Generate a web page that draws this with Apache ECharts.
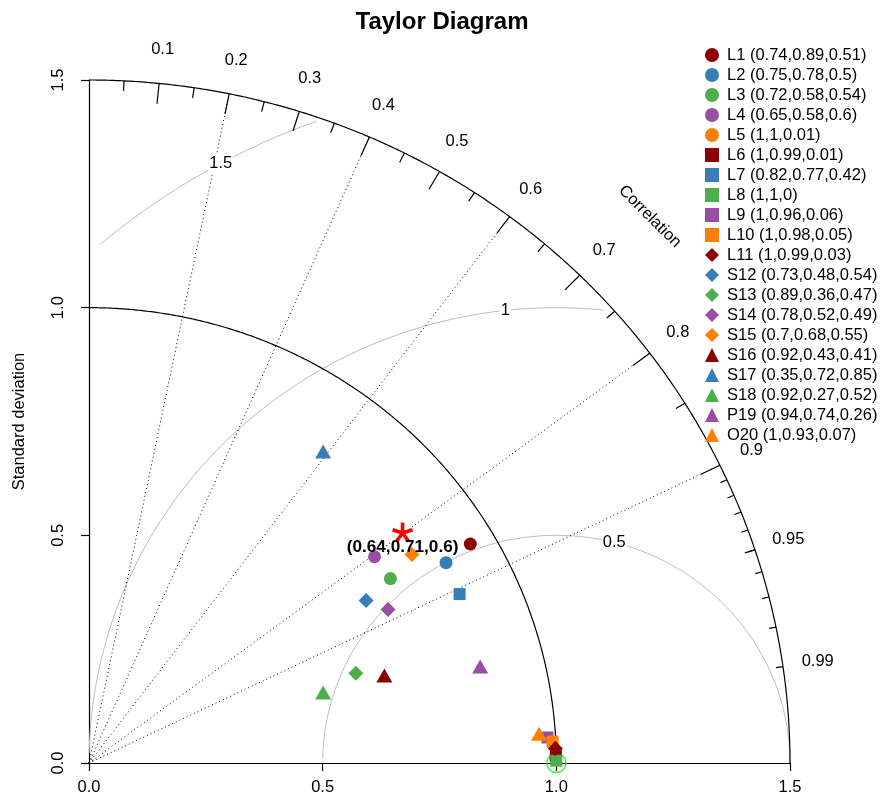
<!DOCTYPE html>
<html>
<head>
<meta charset="utf-8">
<script src="https://cdn.jsdelivr.net/npm/echarts@6/dist/echarts.min.js"></script>
<style>
html,body{margin:0;padding:0;background:#fff;}
#chart{width:884px;height:805px;}
</style>
</head>
<body>
<div id="chart"></div>
<script>
// ---------------- data ----------------
const chartTitle = 'Taylor Diagram';
const sdAxisName = 'Standard deviation';
const corrAxisName = 'Correlation';

const sdTicks = [0, 0.5, 1.0, 1.5];
const maxSd = 1.5;
const refSd = 1.0;

const corrLines = [0.2, 0.4, 0.6, 0.8, 0.9];
const corrBigTicks = [0.1, 0.2, 0.3, 0.4, 0.5, 0.6, 0.7, 0.8, 0.9];
const corrMedTicks = [0.05, 0.15, 0.25, 0.35, 0.45, 0.55, 0.65, 0.75, 0.85, 0.95];
const corrSmallTicks = [0.91, 0.92, 0.93, 0.94, 0.95, 0.96, 0.97, 0.98, 0.99];
const corrLabelValues = [0.1, 0.2, 0.3, 0.4, 0.5, 0.6, 0.7, 0.8, 0.9, 0.95, 0.99];
const rmsLevels = [0.5, 1, 1.5];

const modelNames = [
  'L1 (0.74,0.89,0.51)', 'L2 (0.75,0.78,0.5)', 'L3 (0.72,0.58,0.54)', 'L4 (0.65,0.58,0.6)',
  'L5 (1,1,0.01)', 'L6 (1,0.99,0.01)', 'L7 (0.82,0.77,0.42)', 'L8 (1,1,0)',
  'L9 (1,0.96,0.06)', 'L10 (1,0.98,0.05)', 'L11 (1,0.99,0.03)', 'S12 (0.73,0.48,0.54)',
  'S13 (0.89,0.36,0.47)', 'S14 (0.78,0.52,0.49)', 'S15 (0.7,0.68,0.55)', 'S16 (0.92,0.43,0.41)',
  'S17 (0.35,0.72,0.85)', 'S18 (0.92,0.27,0.52)', 'P19 (0.94,0.74,0.26)', 'O20 (1,0.93,0.07)'
];
// positions in standard-deviation units (x = sd*corr, y = sd*sqrt(1-corr^2))
const modelX = [0.816, 0.764, 0.645, 0.611, 0.998, 0.999, 0.793, 1.000, 0.981, 0.992,
                0.998, 0.593, 0.571, 0.640, 0.691, 0.632, 0.501, 0.501, 0.837, 0.963];
const modelY = [0.481, 0.440, 0.405, 0.453, 0.012, 0.015, 0.371, 0.005, 0.056, 0.047,
                0.032, 0.357, 0.197, 0.337, 0.458, 0.192, 0.684, 0.155, 0.212, 0.064];
const modelSymbols = ['circle','circle','circle','circle','circle',
                      'rect','rect','rect','rect','rect',
                      'diamond','diamond','diamond','diamond','diamond',
                      'triangle','triangle','triangle','triangle','triangle'];
const palette = ['#8B0000', '#377EB8', '#4DAF4A', '#984EA3', '#FF7F00'];

const starX = [0.671];
const starY = [0.505];
const starLabel = '(0.64,0.71,0.6)';

// ---------------- build ----------------
const FONT = '"Liberation Sans", Arial, Helvetica, sans-serif';
const symbolSizes = {circle: 13, rect: 12, diamond: [15, 15], triangle: [16, 14]};

function arc(r, cx, a0, a1, n) {
  const pts = [];
  for (let i = 0; i <= n; i++) {
    const a = a0 + (a1 - a0) * i / n;
    pts.push([cx + r * Math.cos(a), r * Math.sin(a)]);
  }
  return pts;
}
// RMS circle sampled like plotrix (step 0.03 rad), trimmed to the quarter disc
function rmsCircle(g) {
  const xs = [], ys = [];
  for (let a = 0; a <= Math.PI + 1e-9; a += 0.03) {
    xs.push(refSd + g * Math.cos(a));
    ys.push(g * Math.sin(a));
  }
  let end = xs.length - 1;
  for (let i = 0; i < xs.length; i++) { if (xs[i] < 0) { end = i - 1; break; } }
  let start = 0;
  for (let i = 0; i < xs.length; i++) { if (xs[i] * xs[i] + ys[i] * ys[i] > maxSd * maxSd) start = i + 1; }
  const pts = [];
  for (let i = start; i <= end; i++) pts.push([xs[i], ys[i]]);
  return pts;
}
function polySeries(lines, style, z) {
  return {
    type: 'custom', coordinateSystem: 'cartesian2d', silent: true, clip: false, z: z || 2,
    data: lines.map((l, i) => [l[0][0], l[0][1], i]),
    encode: {x: 0, y: 1},
    renderItem: (params, api) => ({
      type: 'polyline', silent: true,
      shape: {points: lines[params.dataIndex].map(p => api.coord(p))},
      style: Object.assign({fill: null}, style)
    })
  };
}
function textSeries(items, z) {
  return {
    type: 'custom', coordinateSystem: 'cartesian2d', silent: true, clip: false, z: z || 3,
    data: items.map((t, i) => [t.x, t.y, i]),
    encode: {x: 0, y: 1},
    renderItem: (params, api) => {
      const t = items[params.dataIndex];
      const p = api.coord([t.x, t.y]);
      return {
        type: 'text', silent: true, x: p[0] + (t.dx || 0), y: p[1] + (t.dy || 0), rotation: t.rot || 0,
        style: Object.assign({text: t.text, fill: '#000', font: (t.font || '16.5px') + ' ' + FONT,
                              align: 'center', verticalAlign: 'middle'}, t.style || {})
      };
    }
  };
}

const series = [];
// gray RMS circles
series.push(polySeries(rmsLevels.map(rmsCircle), {stroke: '#BEBEBE', lineWidth: 1}, 1));
// correlation dotted rays
series.push(polySeries(corrLines.map(c => [[0, 0], [maxSd * c, maxSd * Math.sqrt(1 - c * c)]]),
  {stroke: '#000', lineWidth: 1, lineDash: [1, 3]}, 1));
// black arcs
series.push(polySeries([arc(maxSd, 0, 0, Math.PI / 2, 400), arc(refSd, 0, 0, Math.PI / 2, 400)],
  {stroke: '#000', lineWidth: 1.2}, 2));
// ticks on outer arc
function tickSegs(list, k) {
  return list.map(c => {
    const a = Math.acos(c);
    return [[Math.cos(a) * maxSd, Math.sin(a) * maxSd], [Math.cos(a) * maxSd * k, Math.sin(a) * maxSd * k]];
  });
}
series.push(polySeries(tickSegs(corrBigTicks, 0.97).concat(tickSegs(corrMedTicks, 0.985), tickSegs(corrSmallTicks, 0.99)),
  {stroke: '#000', lineWidth: 1.2}, 2));
// correlation labels
const corrTextItems = corrLabelValues.map(c => {
  const a = Math.acos(c);
  return {x: Math.cos(a) * 1.05 * maxSd, y: Math.sin(a) * 1.05 * maxSd, text: String(c)};
});
corrTextItems.push({x: maxSd * 0.8, y: maxSd * 0.8, text: corrAxisName, rot: -Math.PI / 4});
series.push(textSeries(corrTextItems, 3));
// RMS labels (boxed, white background)
const rmsTextItems = rmsLevels.map((g, k) => {
  const pos = Math.floor(45 + (70 - 45) * k / (rmsLevels.length - 1));
  const a = 0.03 * (pos - 1);
  return {x: refSd + g * Math.cos(a), y: g * Math.sin(a), text: String(g),
          style: {backgroundColor: '#fff', padding: [0, 1]}};
});
series.push(textSeries(rmsTextItems, 3));

// reference point (open green circle)
series.push({
  type: 'scatter', name: 'ref', silent: true, z: 4,
  data: [[refSd, 0]], symbol: 'circle', symbolSize: 19,
  itemStyle: {color: 'rgba(0,0,0,0)', borderColor: '#00FF00', borderWidth: 1.5}
});

// models
modelNames.forEach((name, i) => {
  const sym = modelSymbols[i];
  series.push({
    type: 'scatter', name: name, silent: true, z: 5,
    data: [[modelX[i], modelY[i]]],
    symbol: sym, symbolSize: symbolSizes[sym],
    itemStyle: {color: palette[i % palette.length], opacity: 1}
  });
});

// star marker and its label
series.push({
  type: 'custom', coordinateSystem: 'cartesian2d', silent: true, clip: false, z: 6,
  data: starX.map((x, i) => [x, starY[i]]),
  encode: {x: 0, y: 1},
  renderItem: (params, api) => {
    const c = api.coord([api.value(0), api.value(1)]);
    const L = 10.5;
    const children = [];
    for (let k = 0; k < 5; k++) {
      const a = Math.PI / 2 + k * 2 * Math.PI / 5;
      children.push({type: 'line', silent: true,
        shape: {x1: c[0], y1: c[1], x2: c[0] + L * Math.cos(a), y2: c[1] - L * Math.sin(a)},
        style: {stroke: '#FF0000', lineWidth: 3.6}});
    }
    children.push({type: 'text', silent: true, x: c[0], y: c[1] + 14,
      style: {text: starLabel, font: 'bold 17.2px ' + FONT, fill: '#000', align: 'center', verticalAlign: 'middle'}});
    return {type: 'group', children};
  }
});

const option = {
  animation: false,
  backgroundColor: '#fff',
  textStyle: {fontFamily: FONT},
  title: {
    text: chartTitle, left: 'center', top: 5,
    textStyle: {fontSize: 24, fontWeight: 'bold', color: '#000', fontFamily: FONT}
  },
  grid: {left: 89, right: 94, top: 80, bottom: 42, containLabel: false, outerBoundsMode: 'none'},
  legend: {
    orient: 'vertical', left: 705, top: 45, padding: 0, itemGap: 0,
    itemWidth: 14, itemHeight: 14, selectedMode: false,
    data: modelNames,
    textStyle: {fontSize: 16.5, lineHeight: 20, color: '#000', fontFamily: FONT, padding: [0, 0, 0, 3]}
  },
  xAxis: {
    type: 'value', min: 0, max: maxSd, interval: 0.5,
    axisLine: {show: true, onZero: false, lineStyle: {color: '#000', width: 1.2}},
    axisTick: {show: true, inside: false, length: 8, lineStyle: {color: '#000', width: 1.2}},
    axisLabel: {formatter: v => v.toFixed(1), fontSize: 16.5, color: '#000', fontFamily: FONT, margin: 16},
    splitLine: {show: false}
  },
  yAxis: {
    type: 'value', min: 0, max: maxSd, interval: 0.5,
    name: sdAxisName, nameLocation: 'middle', nameRotate: 90, nameGap: 61, nameMoveOverlap: false,
    nameTextStyle: {fontSize: 16.5, color: '#000', fontFamily: FONT},
    axisLine: {show: true, onZero: false, lineStyle: {color: '#000', width: 1.2}},
    axisTick: {show: true, inside: false, length: 8, lineStyle: {color: '#000', width: 1.2}},
    axisLabel: {formatter: v => v.toFixed(1), fontSize: 16.5, color: '#000', fontFamily: FONT, margin: 22, rotate: 90},
    splitLine: {show: false}
  },
  series: series
};

const chart = echarts.init(document.getElementById('chart'), null, {renderer: 'canvas'});
chart.setOption(option);
</script>
</body>
</html>
